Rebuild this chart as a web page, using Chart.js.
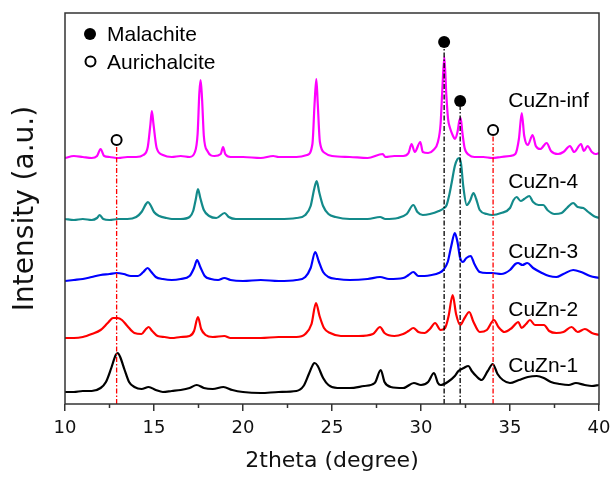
<!DOCTYPE html>
<html>
<head>
<meta charset="utf-8">
<script src="https://cdn.jsdelivr.net/npm/chart.js@4/dist/chart.umd.min.js"></script>
<style>
html,body{margin:0;padding:0;background:#fff;}
#wrap{width:612px;height:478px;position:relative;}
</style>
</head>
<body>
<div id="wrap"><canvas id="c" width="612" height="478"></canvas></div>
<script>
// ---- data (x = 2theta in degree, y = intensity in arbitrary offset units) ----
const seriesNames = ['CuZn-inf', 'CuZn-4', 'CuZn-3', 'CuZn-2', 'CuZn-1'];
const seriesColors = ['#ff00ff', '#138a8a', '#0000ff', '#ff0000', '#000000'];
const labelX = 34.9;
const labelY = [297, 216, 146, 88, 32];

const cuZnInf = [[10,246],[10.5,248],[11,247],[11.5,246],[11.8,248],[12.0,255],[12.2,248],[12.5,247],[13,246],[13.5,247],[14,247],[14.4,249],[14.65,257],[14.8,280],[14.88,293],[14.97,280],[15.15,256],[15.5,249],[16,247],[16.5,248],[17,247],[17.3,252],[17.45,270],[17.55,312],[17.62,324],[17.7,305],[17.8,268],[18.0,253],[18.4,248],[18.75,250],[18.88,257],[19.0,250],[19.3,247],[20,247],[21,246],[21.7,248],[22,247],[23,247],[23.6,249],[23.9,260],[24.02,300],[24.12,325],[24.2,300],[24.32,262],[24.6,251],[25,248],[26,247],[27,246],[27.85,250],[28,247],[28.5,248],[29,248],[29.3,251],[29.47,260],[29.65,252],[29.96,262],[30.1,252],[30.4,251],[30.7,254],[30.95,262],[31.1,280],[31.2,315],[31.31,347],[31.42,310],[31.52,285],[31.63,276],[31.8,268],[31.9,265],[32.05,272],[32.15,283],[32.23,286],[32.32,272],[32.45,256],[32.7,249],[33,247],[33.5,247],[34,246],[34.5,247],[35,248],[35.3,250],[35.5,265],[35.66,291],[35.8,268],[36.0,259],[36.27,269],[36.45,258],[36.7,255],[37.06,261],[37.3,253],[37.7,250],[38,252],[38.37,258],[38.6,252],[38.99,260],[39.15,253],[39.36,258],[39.6,252],[39.8,250],[40,251]];

const cuZn4 = [[10,185],[10.5,184],[11,185],[11.5,184],[11.8,186],[11.95,189],[12.15,185],[12.5,184],[13,185],[13.5,185],[14,187],[14.3,192],[14.55,200],[14.66,202],[14.8,199],[15.0,192],[15.3,188],[15.7,186],[16,185],[16.5,185],[17,187],[17.2,193],[17.35,205],[17.47,215],[17.6,206],[17.8,194],[18.1,188],[18.5,186],[18.97,191],[19.2,187],[19.6,185],[20,185],[21,185],[22,185],[23,186],[23.5,189],[23.8,198],[24.0,215],[24.14,223],[24.28,212],[24.5,198],[24.8,190],[25.2,187],[26,185],[27,185],[27.7,187],[28,185],[28.7,186],[29.2,190],[29.57,199],[29.8,192],[30.1,189],[30.5,190],[31.0,193],[31.3,196],[31.44,199],[31.6,210],[31.72,221],[31.9,238],[32.05,245],[32.15,246],[32.25,240],[32.38,217],[32.57,199],[32.75,203],[32.95,211],[33.1,205],[33.3,194],[33.7,190],[34.0,189],[34.5,191],[35.0,196],[35.2,204],[35.37,207],[35.6,203],[35.8,205],[36.08,208],[36.3,202],[36.6,199],[36.87,199],[37.1,194],[37.5,190],[37.9,191],[38.2,196],[38.55,201],[38.8,197],[39.12,196],[39.4,192],[39.7,188],[40,186]];

const cuZn3 = [[10,123],[10.5,124],[11,125],[11.5,127],[12,129],[12.5,130],[12.9,131],[13.3,130],[13.7,128],[14.1,128],[14.4,132],[14.64,136],[14.85,132],[15.1,127],[15.5,125],[16,124],[16.5,125],[17,128],[17.25,136],[17.42,144],[17.6,137],[17.85,128],[18.2,125],[18.6,124],[18.95,126],[19.3,124],[20,123],[21,124],[22,123],[23,124],[23.5,127],[23.8,136],[24.06,152],[24.25,143],[24.5,132],[24.8,127],[25.3,125],[26,124],[27,125],[27.7,127],[28.2,125],[29,126],[29.3,129],[29.57,132],[29.85,128],[30.2,128],[30.6,129],[31.0,131],[31.25,134],[31.5,142],[31.7,158],[31.9,171],[32.05,162],[32.2,146],[32.35,142],[32.55,146],[32.79,148],[33.0,140],[33.3,132],[33.7,131],[34.0,131],[34.5,130],[35.0,134],[35.3,140],[35.45,141],[35.7,139],[35.97,141],[36.3,136],[36.8,131],[37.2,128],[37.6,127],[38.0,130],[38.55,134],[39.0,132],[39.5,128],[40,126]];

const cuZn2 = [[10,66],[10.5,66],[11,67],[11.5,70],[12,74],[12.4,81],[12.7,86],[12.95,86],[13.2,84],[13.5,78],[13.9,71],[14.3,70],[14.55,75],[14.7,77],[14.9,73],[15.2,68],[15.6,67],[16,66],[16.5,67],[17,68],[17.25,73],[17.47,87],[17.65,75],[17.9,69],[18.3,67],[18.95,68],[19.3,66],[20,66],[21,66],[22,67],[23,67],[23.5,70],[23.85,80],[24.1,101],[24.3,88],[24.55,76],[24.9,71],[25.5,68],[26.5,68],[27.3,70],[27.7,77],[27.95,71],[28.5,68],[29,70],[29.3,73],[29.57,76],[29.85,72],[30.2,71],[30.5,75],[30.79,81],[31.1,74],[31.35,76],[31.55,88],[31.78,109],[31.97,90],[32.2,79],[32.45,86],[32.71,92],[32.95,82],[33.3,72],[33.7,74],[34.1,84],[34.35,77],[34.7,72],[35.1,76],[35.47,82],[35.65,76],[35.9,80],[36.12,84],[36.4,79],[36.91,79],[37.2,73],[37.6,71],[38.0,72],[38.46,77],[38.8,72],[39.21,75],[39.6,71],[40,69]];

const cuZn1 = [[10,12],[10.5,12],[11,13],[11.5,13],[12,16],[12.3,22],[12.6,36],[12.85,49],[12.96,51],[13.1,47],[13.35,34],[13.6,22],[13.9,17],[14.3,15],[14.7,17],[15.1,14],[15.5,12],[16,13],[16.5,14],[17,16],[17.4,19],[17.8,16],[18.3,15],[18.9,17],[19.4,14],[20,12],[21,11],[22,12],[23,13],[23.4,18],[23.7,30],[23.95,40],[24.03,41],[24.2,38],[24.5,26],[24.8,19],[25.3,16],[26,16],[26.8,18],[27.4,21],[27.74,34],[27.95,22],[28.3,17],[29,16],[29.6,21],[30,19],[30.4,22],[30.73,31],[30.95,21],[31.1,19],[31.5,22],[31.9,28],[32.1,33],[32.4,36],[32.66,38],[32.85,33],[33.1,28],[33.4,24],[33.75,33],[34.03,40],[34.3,30],[34.6,24],[35.0,21],[35.5,24],[36.0,27],[36.5,28],[36.9,26],[37.3,22],[37.8,20],[38.3,19],[38.7,21],[39.2,19],[39.6,18],[40,19]];

// reference phase lines: position, top of line, marker height
const malachiteX = [31.3, 32.2];
const malachiteTop = [356, 297];
const malachiteMark = [362, 303];
const aurichalciteX = [12.9, 34.05];
const aurichalciteTop = [257, 268];
const aurichalciteMark = [264, 274];

const majorTicks = [10, 15, 20, 25, 30, 35, 40];
const minorTicks = [12.5, 17.5, 22.5, 27.5, 32.5, 37.5];

// ---- build datasets ----
const toPts = arr => arr.map(p => ({x: p[0], y: p[1]}));
const curves = [cuZnInf, cuZn4, cuZn3, cuZn2, cuZn1];
const datasets = [];
curves.forEach((c, i) => {
  datasets.push({
    label: seriesNames[i], data: toPts(c), borderColor: seriesColors[i],
    borderWidth: 2.2, pointRadius: 0, cubicInterpolationMode: 'monotone', order: 2
  });
});
malachiteX.forEach((x, i) => {
  datasets.push({data: [{x: x, y: 0}, {x: x, y: malachiteTop[i]}], borderColor: '#000',
    borderWidth: 1.3, borderDash: [5, 2, 1.5, 2], pointRadius: 0, order: 1});
});
aurichalciteX.forEach((x, i) => {
  datasets.push({data: [{x: x, y: 0}, {x: x, y: aurichalciteTop[i]}], borderColor: '#ff0000',
    borderWidth: 1.3, borderDash: [5, 2, 1.5, 2], pointRadius: 0, order: 1});
});
datasets.push({data: malachiteX.map((x, i) => ({x: x, y: malachiteMark[i]})), showLine: false,
  pointRadius: 6, pointBackgroundColor: '#000', pointBorderColor: '#000', pointBorderWidth: 0, order: 0});
datasets.push({data: aurichalciteX.map((x, i) => ({x: x, y: aurichalciteMark[i]})), showLine: false,
  pointRadius: 5, pointBackgroundColor: '#fff', pointBorderColor: '#000', pointBorderWidth: 2, order: 0});

const overlay = {
  id: 'overlay',
  afterDraw(chart) {
    const {ctx, chartArea: a, scales: {x, y}} = chart;
    ctx.save();
    ctx.strokeStyle = '#333';
    ctx.lineWidth = 1.5;
    ctx.strokeRect(a.left, a.top, a.right - a.left, a.bottom - a.top);
    minorTicks.forEach(v => {
      const px = x.getPixelForValue(v);
      ctx.beginPath(); ctx.moveTo(px, a.bottom); ctx.lineTo(px, a.bottom + 4); ctx.stroke();
    });
    ctx.fillStyle = '#000';
    ctx.font = '21px "Liberation Sans", Arial, sans-serif';
    ctx.textAlign = 'left';
    ctx.textBaseline = 'alphabetic';
    seriesNames.forEach((n, i) => ctx.fillText(n, x.getPixelForValue(labelX), y.getPixelForValue(labelY[i])));
    // phase legend
    ctx.beginPath(); ctx.arc(a.left + 25, a.top + 21, 6, 0, Math.PI * 2); ctx.fill();
    ctx.beginPath(); ctx.arc(a.left + 25.5, a.top + 48.5, 5, 0, Math.PI * 2);
    ctx.fillStyle = '#fff'; ctx.fill(); ctx.strokeStyle = '#000'; ctx.lineWidth = 2; ctx.stroke();
    ctx.fillStyle = '#000';
    ctx.fillText('Malachite', a.left + 42, a.top + 28);
    ctx.fillText('Aurichalcite', a.left + 42, a.top + 55.5);
    ctx.restore();
  }
};

new Chart(document.getElementById('c'), {
  type: 'line',
  data: {datasets: datasets},
  plugins: [overlay],
  options: {
    responsive: false, animation: false,
    layout: {padding: {left: 0, right: 13, top: 13, bottom: 0}},
    plugins: {legend: {display: false}, tooltip: {enabled: false}},
    scales: {
      x: {
        type: 'linear', min: 10, max: 40,
        afterBuildTicks: s => { s.ticks = majorTicks.map(v => ({value: v})); },
        afterFit: s => { s.height = 74; s.paddingLeft = 0; s.paddingRight = 0; },
        ticks: {color: '#111', padding: 7, maxRotation: 0, autoSkip: false,
          font: {family: '"DejaVu Sans", sans-serif', size: 18}},
        grid: {drawOnChartArea: false, drawTicks: true, tickLength: 7, color: '#333', lineWidth: 1.5},
        border: {display: false},
        title: {display: true, text: '2theta (degree)', color: '#111',
          font: {family: '"DejaVu Sans", sans-serif', size: 22}, padding: {top: 0, bottom: 4}}
      },
      y: {
        type: 'linear', min: 0, max: 391,
        afterFit: s => { s.width = 65; s.paddingTop = 0; s.paddingBottom = 0; },
        ticks: {display: false},
        grid: {display: false},
        border: {display: false},
        title: {display: true, text: 'Intensity (a.u.)', color: '#111',
          font: {family: '"DejaVu Sans", sans-serif', size: 28}, padding: {top: 9, bottom: 0}}
      }
    }
  }
});
</script>
</body>
</html>
